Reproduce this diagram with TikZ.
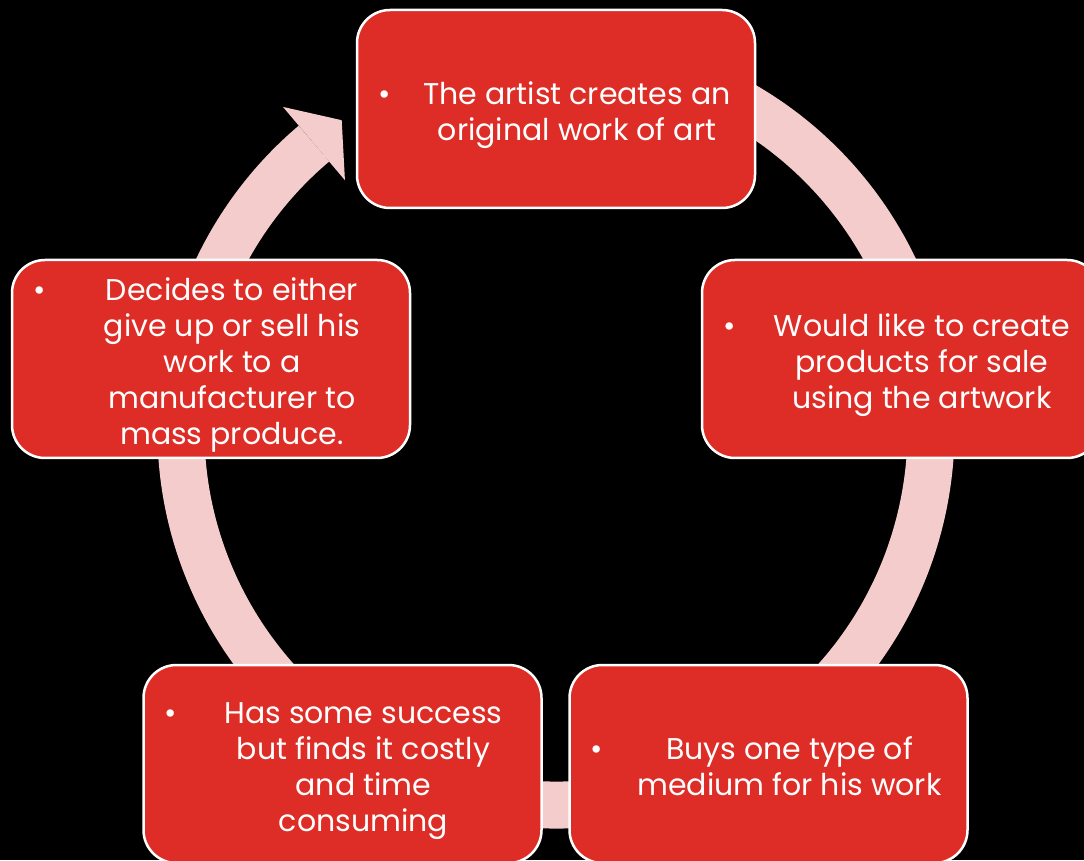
\documentclass[tikz,border=0pt]{standalone}
\usepackage{fontspec}
\setmainfont{Poppins}
\definecolor{boxred}{RGB}{222,45,39}
\definecolor{ringpink}{RGB}{244,204,204}
\newcommand{\steptext}[1]{\raisebox{0pt}[\dimexpr\height+12pt\relax][\depth]{\parbox[t]{42pt}{\textbullet}\makebox[314pt]{\begin{tabular}[t]{@{}c@{}}#1\end{tabular}}}}
\tikzset{
  stepbox/.style={draw=white, line width=2.5pt, fill=boxred, rounded corners=33pt,
    minimum width=398pt, minimum height=198pt, inner sep=0pt, text=white,
    font=\fontsize{30}{36}\selectfont},
}
\begin{document}
\begin{tikzpicture}[x=1pt,y=1pt]
\useasboundingbox (0,0) rectangle (1084,860);
\clip (0,0) rectangle (1084,860);
\fill [black] (0,0) rectangle (1084,860);
% ring with its head
\coordinate (hub) at (556,430);
\draw [ringpink, line width=47pt] ([shift={(80:375)}]hub) arc [start angle=80, end angle=-229.8, radius=375];
\fill [ringpink] ([shift={(130.2:423)}]hub) -- (341.7,739.8) -- ([shift={(130.2:327)}]hub) -- cycle;
% the five steps
\node [stepbox] (create) at (556,751) {\steptext{The artist creates an\\original work of art}};
\node [stepbox] (products) at (901,501) {\steptext{Would like to create\\products for sale\\using the artwork}};
\node [stepbox] (medium) at (768.5,96) {\steptext{Buys one type of\\medium for his work}};
\node [stepbox] (success) at (342.5,96) {\steptext{Has some success\\but finds it costly\\and time\\consuming}};
\node [stepbox] (decides) at (211,501) {\steptext{Decides to either\\give up or sell his\\work to a\\manufacturer to\\mass produce.}};
\end{tikzpicture}
\end{document}
